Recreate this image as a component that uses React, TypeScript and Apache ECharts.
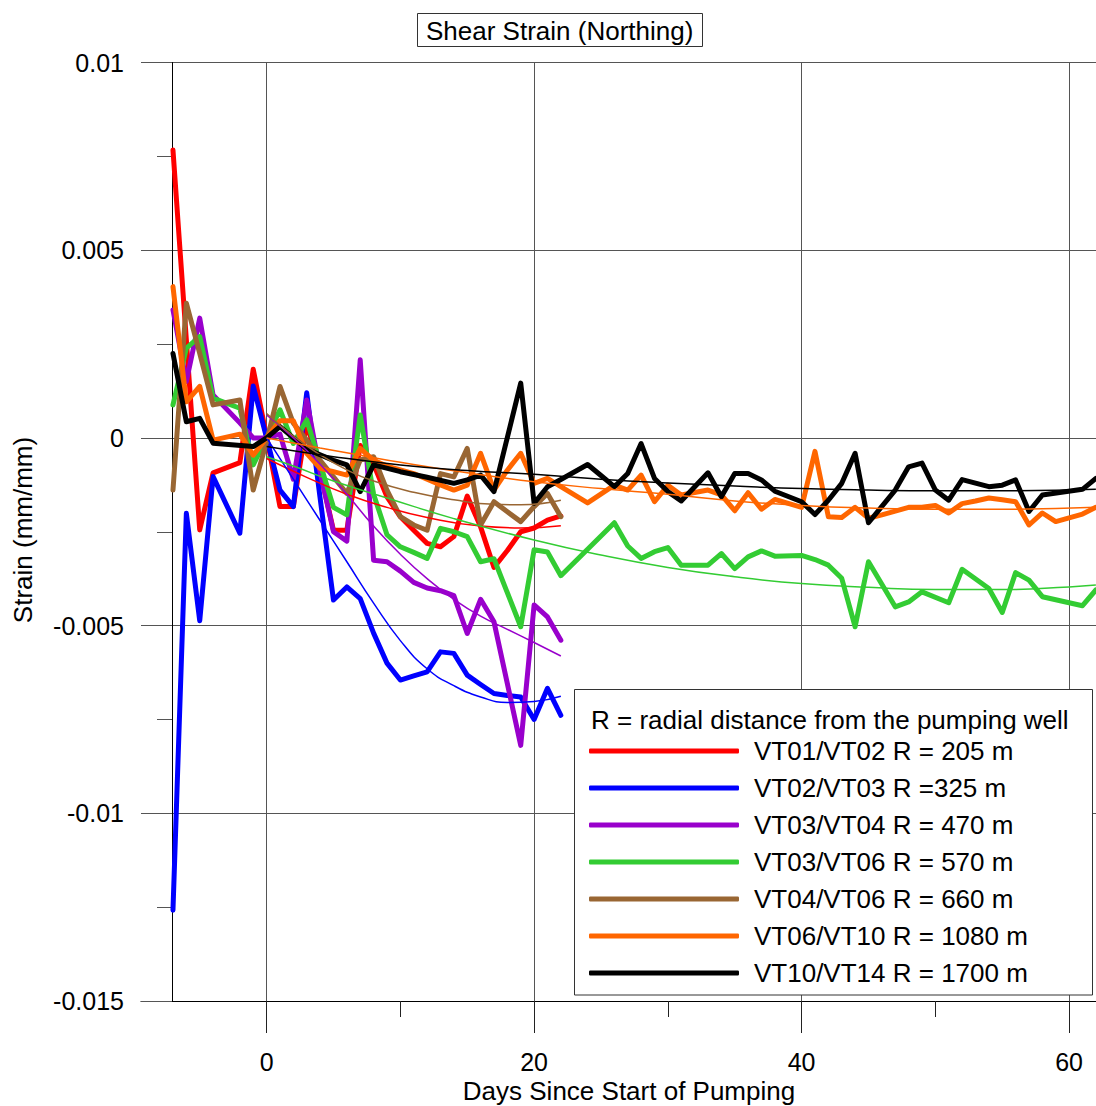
import React, { useEffect, useRef } from "react";
import * as echarts from "echarts";

const FONT = '"Liberation Sans", Arial, Helvetica, sans-serif';

const TITLE = "Shear Strain (Northing)";
const X_NAME = "Days Since Start of Pumping";
const Y_NAME = "Strain (mm/mm)";
const LEGEND_HEADER = "R = radial distance from the pumping well";

const X_MIN = -9.39;
const X_MAX = 62.01;
const X_MAJOR = [0, 20, 40, 60];
const X_MINOR = [10, 30, 50];
const Y_MIN = -0.015;
const Y_MAX = 0.01;
const Y_STEP = 0.005;

const seriesNames = [
  "VT01/VT02 R = 205 m",
  "VT02/VT03 R =325 m",
  "VT03/VT04 R = 470 m",
  "VT03/VT06 R = 570 m",
  "VT04/VT06 R = 660 m",
  "VT06/VT10 R = 1080 m",
  "VT10/VT14 R = 1700 m",
];
const seriesColors = ["#ff0000", "#0000ff", "#9900cc", "#33cc33", "#996633", "#ff6600", "#000000"];

// measured series (days, strain)
const redDays = [-7, -5, -4, -2, -1, 0, 1, 2, 3, 4, 5, 6, 7, 8, 9, 10, 11, 12, 13, 14, 15, 16, 17, 18, 19, 20, 21, 22];
const redStrain = [0.00767, -0.00245, -0.00093, -0.00066, 0.00183, 0.00003, -0.00183, -0.00183, 0.0004, -0.0009, -0.00246, -0.00246, -0.0002, -0.0007, -0.00157, -0.0021, -0.00246, -0.00281, -0.0029, -0.00263, -0.00155, -0.00237, -0.00345, -0.003, -0.0025, -0.0024, -0.00219, -0.00208];

const blueDays = [-7, -6, -5, -4, -2, -1, 0, 1, 2, 3, 4, 5, 6, 7, 8, 9, 10, 11, 12, 13, 14, 15, 16, 17, 18, 19, 20, 21, 22];
const blueStrain = [-0.01258, -0.00201, -0.00487, -0.00103, -0.00254, 0.00138, 0, -0.00139, -0.00183, 0.0012, -0.0016, -0.00432, -0.00397, -0.00428, -0.0052, -0.006, -0.00645, -0.00634, -0.00623, -0.0057, -0.00574, -0.00632, -0.00657, -0.00681, -0.00686, -0.0069, -0.0075, -0.00667, -0.00739];

const purpleDays = [-7, -6, -5, -4, -2, -1, 0, 1, 2, 3, 4, 5, 6, 7, 8, 9, 10, 11, 12, 13, 14, 15, 16, 17, 19, 20, 21, 22];
const purpleStrain = [0.00341, 0.0015, 0.00319, 0.00114, 0.0004, 0, 0, 0.0001, -0.0011, 0.00101, -0.0009, -0.0025, -0.00275, 0.00208, -0.00326, -0.0033, -0.00355, -0.00385, -0.004, -0.00407, -0.0042, -0.00521, -0.0043, -0.0049, -0.00819, -0.00445, -0.00477, -0.00539];

const greenDays = [-7, -6, -5, -4, -2, -1, 0, 1, 2, 3, 4, 5, 6, 7, 8, 9, 10, 11, 12, 13, 14, 15, 16, 17, 19, 20, 21, 22, 26, 27, 28, 29, 30, 31, 33, 34, 35, 36, 37, 38, 40, 41, 42, 43, 44, 45, 47, 48, 49, 51, 52, 54, 55, 56, 57, 58, 61, 62];
const greenStrain = [0.00088, 0.00239, 0.0027, 0.00106, 0.00079, -0.00072, 0, 0.00075, -0.00015, 0.00048, -0.00068, -0.00185, -0.00205, 0.00061, -0.0015, -0.00258, -0.0029, -0.00305, -0.00321, -0.00241, -0.0025, -0.00263, -0.0033, -0.00322, -0.00503, -0.00298, -0.00304, -0.00367, -0.00226, -0.00288, -0.00321, -0.00303, -0.00292, -0.00339, -0.00339, -0.00308, -0.00348, -0.00317, -0.00301, -0.00315, -0.00313, -0.00324, -0.00339, -0.00374, -0.00503, -0.0033, -0.0045, -0.00437, -0.0041, -0.00439, -0.0035, -0.00401, -0.00465, -0.00359, -0.00379, -0.00423, -0.00447, -0.00405];

const brownDays = [-7, -6, -5, -4, -2, -1, 0, 1, 2, 3, 4, 5, 6, 7, 8, 9, 10, 11, 12, 13, 14, 15, 16, 17, 18, 19, 20, 21, 22];
const brownStrain = [-0.00139, 0.00359, 0.00225, 0.00088, 0.00101, -0.00139, -0.0001, 0.00137, 0.00039, -0.00006, -0.0006, -0.00104, -0.00148, -0.00059, -0.0005, -0.00139, -0.0021, -0.00232, -0.00246, -0.00095, -0.00104, -0.00028, -0.00232, -0.0017, -0.00197, -0.00223, -0.00183, -0.00148, -0.0021];

const orangeDays = [-7, -6, -5, -4, -2, -1, 0, 1, 2, 3, 4, 5, 6, 7, 8, 9, 10, 11, 12, 13, 14, 15, 16, 17, 18, 19, 20, 21, 22, 24, 26, 27, 28, 29, 30, 31, 33, 34, 35, 36, 37, 38, 40, 41, 42, 43, 44, 45, 46, 47, 48, 49, 50, 51, 52, 53, 54, 55, 56, 57, 58, 59, 60, 61, 62];
const orangeStrain = [0.00403, 0.00096, 0.00137, -0.00006, 0.0001, -0.00046, 0, 0.00046, 0.00046, -0.00041, -0.00081, -0.0009, -0.00099, -0.00028, -0.0006, -0.00075, -0.00085, -0.00095, -0.0011, -0.00125, -0.00139, -0.00126, -0.00041, -0.00139, -0.00086, -0.00041, -0.00121, -0.00108, -0.0013, -0.00173, -0.00126, -0.00139, -0.00099, -0.0017, -0.00126, -0.00152, -0.00139, -0.00152, -0.00194, -0.00146, -0.0019, -0.00164, -0.00185, -0.00036, -0.0021, -0.00212, -0.00185, -0.00214, -0.00205, -0.00195, -0.00185, -0.00185, -0.0018, -0.002, -0.00175, -0.00168, -0.0016, -0.00165, -0.0017, -0.00232, -0.002, -0.00223, -0.00213, -0.00203, -0.00185];

const blackDays = [-7, -6, -5, -4, -1, 0, 1, 2, 3, 4, 5, 6, 7, 8, 10, 12, 14, 15, 16, 17, 19, 20, 21, 22, 24, 25, 26, 27, 28, 29, 30, 31, 33, 34, 35, 36, 37, 38, 40, 41, 42, 43, 44, 45, 47, 48, 49, 50, 51, 52, 54, 55, 56, 57, 58, 61, 62];
const blackStrain = [0.00225, 0.00043, 0.00052, -0.00014, -0.00023, 0, 0.0003, 0, -0.0003, -0.00045, -0.0006, -0.00072, -0.00143, -0.00072, -0.0009, -0.00105, -0.00121, -0.00112, -0.00099, -0.00143, 0.00146, -0.00174, -0.0013, -0.00111, -0.00071, -0.001, -0.0013, -0.00095, -0.00015, -0.00108, -0.00143, -0.00168, -0.00093, -0.00157, -0.00095, -0.00095, -0.00112, -0.00142, -0.0017, -0.00204, -0.00166, -0.00121, -0.00041, -0.00226, -0.00139, -0.00077, -0.00067, -0.00139, -0.00166, -0.00111, -0.0013, -0.00126, -0.00112, -0.00196, -0.00152, -0.00137, -0.00108];

// fitted trend curves (days, strain)
const redFitDays = [0, 3, 6, 9, 12, 16, 19, 22];
const redFitStrain = [-0.00055, -0.00105, -0.0015, -0.00185, -0.00212, -0.00235, -0.0024, -0.00234];
const blueFitDays = [0, 2, 4, 6, 8, 10, 12, 14, 16, 18, 20, 22];
const blueFitStrain = [0, -0.0011, -0.0022, -0.0033, -0.0044, -0.0054, -0.00615, -0.0066, -0.0069, -0.00705, -0.00702, -0.00688];
const purpleFitDays = [0, 2, 4, 6, 8, 10, 12, 14, 16, 18, 20, 22];
const purpleFitStrain = [0.00061, 0, -0.0007, -0.0015, -0.00235, -0.0031, -0.00375, -0.0043, -0.00475, -0.0051, -0.00545, -0.00581];
const greenFitDays = [0, 2, 5, 9, 14, 20, 25, 30, 35, 40, 45, 50, 55, 60, 62];
const greenFitStrain = [-0.0005, -0.00075, -0.00115, -0.0016, -0.00215, -0.00272, -0.00312, -0.00345, -0.0037, -0.00388, -0.00398, -0.00404, -0.00404, -0.00397, -0.00392];
const brownFitDays = [0, 2, 4, 6, 8, 11, 14, 17, 19, 22];
const brownFitStrain = [0.00065, 0.00005, -0.00045, -0.00085, -0.00115, -0.00145, -0.00165, -0.00177, -0.00178, -0.00166];
const orangeFitDays = [0, 4, 7, 10, 15, 20, 25, 30, 35, 40, 45, 50, 55, 62];
const orangeFitStrain = [0, -0.00027, -0.00046, -0.00065, -0.00093, -0.00117, -0.00135, -0.0015, -0.00168, -0.0018, -0.00187, -0.0019, -0.0019, -0.00185];
const blackFitDays = [0, 5, 10, 15, 20, 25, 30, 35, 40, 45, 50, 55, 62];
const blackFitStrain = [-0.00023, -0.0005, -0.00072, -0.00087, -0.00097, -0.0011, -0.0012, -0.00128, -0.00135, -0.00139, -0.00141, -0.00141, -0.00137];

const measured = [
  [redDays, redStrain],
  [blueDays, blueStrain],
  [purpleDays, purpleStrain],
  [greenDays, greenStrain],
  [brownDays, brownStrain],
  [orangeDays, orangeStrain],
  [blackDays, blackStrain],
];
const fitted = [
  [redFitDays, redFitStrain],
  [blueFitDays, blueFitStrain],
  [purpleFitDays, purpleFitStrain],
  [greenFitDays, greenFitStrain],
  [brownFitDays, brownFitStrain],
  [orangeFitDays, orangeFitStrain],
  [blackFitDays, blackFitStrain],
];

const zip = (xs: number[], ys: number[]) => xs.map((x, i) => [x, ys[i]]);

function buildOption() {
  const thick = measured.map(([d, s], i) => ({
    type: "line",
    name: seriesNames[i],
    data: zip(d as number[], s as number[]),
    symbol: "none",
    showSymbol: false,
    color: seriesColors[i],
    lineStyle: { color: seriesColors[i], width: 5, cap: "round", join: "round" },
    itemStyle: { color: seriesColors[i] },
    z: 2,
    silent: true,
  }));
  const thin = fitted.map(([d, s], i) => ({
    type: "line",
    name: "fit " + (i + 1),
    data: zip(d as number[], s as number[]),
    symbol: "none",
    showSymbol: false,
    smooth: true,
    color: seriesColors[i],
    lineStyle: { color: seriesColors[i], width: 1.5 },
    z: 2,
    silent: true,
  }));

  const labelStyle = { fontFamily: FONT, fontSize: 25, color: "#000" };
  const gridLine = { color: "#555", width: 1 };

  return {
    animation: false,
    backgroundColor: "#ffffff",
    textStyle: { fontFamily: FONT },
    title: {
      text: TITLE,
      left: 417,
      top: 13,
      padding: [4, 9, 3, 9],
      borderColor: "#333",
      borderWidth: 1,
      textStyle: { fontFamily: FONT, fontSize: 26, fontWeight: "normal", color: "#000", lineHeight: 27 },
    },
    grid: { left: 141, right: 0, top: 62.5, bottom: 105, containLabel: false },
    xAxis: [
      {
        type: "value",
        min: X_MIN,
        max: X_MAX,
        position: "bottom",
        axisLine: { show: true, onZero: false, lineStyle: { color: "#000", width: 1 } },
        axisTick: { show: true, customValues: X_MAJOR, length: 32, lineStyle: { color: "#222", width: 1 } },
        axisLabel: { show: true, customValues: X_MAJOR, margin: 48, ...labelStyle },
        splitLine: { show: true, lineStyle: gridLine },
        minorTick: { show: false },
      },
      {
        type: "value",
        min: X_MIN,
        max: X_MAX,
        position: "bottom",
        axisLine: { show: false, onZero: false },
        axisTick: { show: true, customValues: X_MINOR, length: 16, lineStyle: { color: "#222", width: 1 } },
        axisLabel: { show: false, customValues: X_MINOR },
        splitLine: { show: false },
      },
    ],
    yAxis: {
      type: "value",
      min: Y_MIN,
      max: Y_MAX,
      interval: Y_STEP,
      offset: -31,
      axisLine: { show: true, onZero: false, lineStyle: { color: "#000", width: 1 } },
      axisTick: { show: true, length: 31, lineStyle: { color: "#555", width: 1 } },
      minorTick: { show: true, splitNumber: 2, length: 15, lineStyle: { color: "#555", width: 1 } },
      axisLabel: { margin: 48, ...labelStyle },
      splitLine: { show: true, lineStyle: gridLine },
    },
    legend: {
      data: seriesNames,
      orient: "vertical",
      left: 589,
      top: 736,
      padding: 0,
      itemWidth: 150,
      itemHeight: 5,
      itemGap: 7,
      icon: "roundRect",
      selectedMode: false,
      z: 6,
      textStyle: { fontFamily: FONT, fontSize: 26, color: "#000", lineHeight: 30, padding: [0, 0, 0, 10] },
    },
    graphic: [
      {
        type: "rect",
        z: 5,
        shape: { x: 574.5, y: 689.5, width: 518, height: 305.5 },
        style: { fill: "#ffffff", stroke: "#333", lineWidth: 1 },
      },
      {
        type: "text",
        z: 6,
        x: 591,
        y: 719.5,
        style: {
          text: LEGEND_HEADER,
          font: `26px ${FONT}`,
          fill: "#000",
          align: "left",
          verticalAlign: "middle",
          textAlign: "left",
          textVerticalAlign: "middle",
        },
      },
      {
        type: "text",
        z: 6,
        x: 629,
        y: 1091,
        style: {
          text: X_NAME,
          font: `26px ${FONT}`,
          fill: "#000",
          align: "center",
          verticalAlign: "middle",
          textAlign: "center",
          textVerticalAlign: "middle",
        },
      },
      {
        type: "text",
        z: 6,
        x: 23,
        y: 530,
        rotation: Math.PI / 2,
        style: {
          text: Y_NAME,
          font: `26px ${FONT}`,
          fill: "#000",
          align: "center",
          verticalAlign: "middle",
          textAlign: "center",
          textVerticalAlign: "middle",
        },
      },
    ],
    series: [...thick, ...thin],
  };
}

export default function App() {
  const ref = useRef<HTMLDivElement>(null);
  useEffect(() => {
    if (!ref.current) return;
    const chart = echarts.init(ref.current, null, { renderer: "svg" });
    chart.setOption(buildOption() as any);
    return () => chart.dispose();
  }, []);
  return (
    <div
      ref={ref}
      style={{ position: "fixed", left: 0, top: 0, width: 1096, height: 1106, background: "#fff" }}
    />
  );
}
